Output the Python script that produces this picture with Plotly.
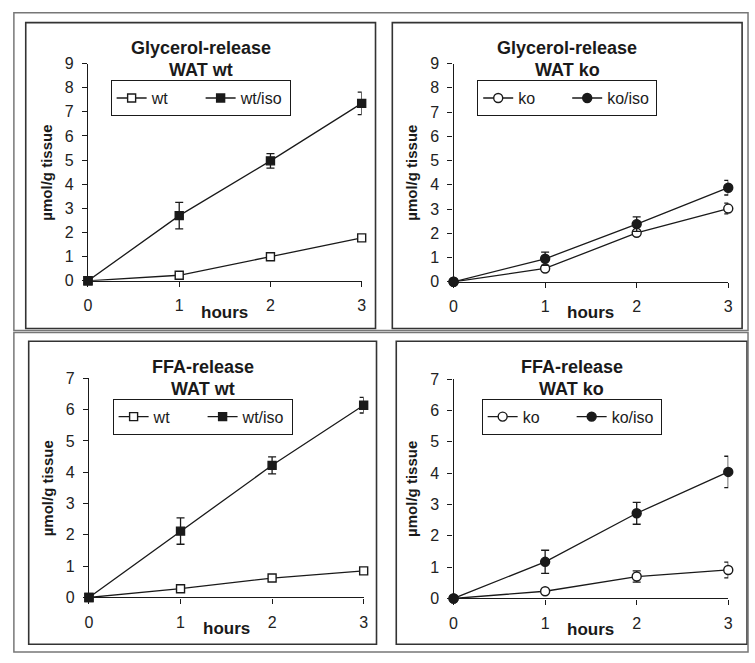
import plotly.graph_objects as go

W, H = 755, 663

hours = [0, 1, 2, 3]

# Panel 1: Glycerol-release WAT wt
gly_wt = [0, 0.23, 1.0, 1.78]
gly_wt_err = [0, 0.05, 0.06, 0.06]
gly_wtiso = [0, 2.7, 4.97, 7.35]
gly_wtiso_err = [0, 0.55, 0.3, 0.47]

# Panel 2: Glycerol-release WAT ko
gly_ko = [0, 0.55, 2.02, 3.02]
gly_ko_err = [0, 0.1, 0.1, 0.22]
gly_koiso = [0, 0.95, 2.38, 3.88]
gly_koiso_err = [0, 0.27, 0.3, 0.3]

# Panel 3: FFA-release WAT wt
ffa_wt = [0, 0.28, 0.62, 0.85]
ffa_wt_err = [0, 0.04, 0.08, 0.05]
ffa_wtiso = [0, 2.12, 4.22, 6.14]
ffa_wtiso_err = [0, 0.42, 0.27, 0.25]

# Panel 4: FFA-release WAT ko
ffa_ko = [0, 0.23, 0.7, 0.91]
ffa_ko_err = [0, 0.05, 0.18, 0.25]
ffa_koiso = [0, 1.17, 2.72, 4.04]
ffa_koiso_err = [0, 0.37, 0.35, 0.5]

titles = [("Glycerol-release", "WAT wt"), ("Glycerol-release", "WAT ko"),
          ("FFA-release", "WAT wt"), ("FFA-release", "WAT ko")]
y_max = [9, 9, 7, 7]

def px(x):
    return x / W

def py(y):
    return 1 - y / H

# plot-area pixel boxes (x0, x1, ytop, ybottom)
areas = [(85, 362, 57, 280), (455, 733, 57, 281), (86, 364, 380, 605), (455, 733, 381, 606)]
panels = [(22, 376, 15, 329), (393, 747, 15, 329), (25, 377, 342, 653), (397, 752, 342, 653)]

fig = go.Figure()

series = [
    [("wt", gly_wt, gly_wt_err, "square-open", "square"), ("wt/iso", gly_wtiso, gly_wtiso_err, "square", "square")],
    [("ko", gly_ko, gly_ko_err, "circle-open", "circle"), ("ko/iso", gly_koiso, gly_koiso_err, "circle", "circle")],
    [("wt", ffa_wt, ffa_wt_err, "square-open", "square"), ("wt/iso", ffa_wtiso, ffa_wtiso_err, "square", "square")],
    [("ko", ffa_ko, ffa_ko_err, "circle-open", "circle"), ("ko/iso", ffa_koiso, ffa_koiso_err, "circle", "circle")],
]

FONT = "Liberation Sans, Arial, sans-serif"
INK = "#1a1a1a"

for i, ser in enumerate(series):
    xa = "x" if i == 0 else f"x{i+1}"
    ya = "y" if i == 0 else f"y{i+1}"
    lg = "legend" if i == 0 else f"legend{i+1}"
    for name, vals, errs, sym, base in ser:
        filled = not sym.endswith("open")
        fig.add_trace(go.Scatter(
            x=hours, y=vals, name=name, mode="lines+markers",
            xaxis=xa, yaxis=ya, legend=lg, cliponaxis=False,
            line=dict(color=INK, width=1.3),
            marker=dict(symbol=base, size=8 if base == "square" else 9,
                        color=INK if filled else "white",
                        line=dict(color=INK, width=1.4)),
            error_y=dict(type="data", array=errs, visible=True,
                         color=INK, thickness=1.3, width=4),
        ))

layout = dict(
    width=W, height=H, margin=dict(l=0, r=0, t=0, b=0),
    paper_bgcolor="white", plot_bgcolor="white", showlegend=True,
    font=dict(family=FONT, color=INK, size=14),
)

shapes = []
annotations = []

def ann(text, x, y, size, angle=0):
    return dict(text=text, x=px(x), y=py(y), xref="paper", yref="paper",
                xanchor="center", yanchor="middle", showarrow=False, textangle=angle,
                font=dict(size=size, family=FONT, color=INK))

for i, (x0, x1, yt, yb) in enumerate(areas):
    sx = "" if i == 0 else str(i + 1)
    axis_common = dict(showline=True, linecolor=INK, linewidth=1.3, ticks="outside",
                       ticklen=5, tickcolor=INK, tickwidth=1.3, showgrid=False,
                       zeroline=False, dtick=1, fixedrange=True,
                       tickfont=dict(family=FONT, size=16, color="#222"))
    layout["xaxis" + sx] = dict(domain=[px(x0), px(x1)], range=[0, 3],
                                anchor="y" + sx, ticklabelstandoff=5, **axis_common)
    layout["yaxis" + sx] = dict(domain=[py(yb), py(yt)], range=[0, y_max[i]],
                                anchor="x" + sx, ticklabelstandoff=5, **axis_common)
    p = panels[i]
    cx = (p[0] + p[1]) / 2
    shapes.append(dict(type="rect", xref="paper", yref="paper",
                       x0=px(p[0]), x1=px(p[1]), y0=py(p[3]), y1=py(p[2]),
                       line=dict(color="#333", width=1.6)))
    t1, t2 = titles[i]
    annotations.append(ann("<b>" + t1 + "</b>", cx, p[2] + 26, 18))
    annotations.append(ann("<b>" + t2 + "</b>", cx, p[2] + 49, 18))
    annotations.append(ann("<b>hours</b>", (x0 + x1) / 2, yb + 32, 17))
    annotations.append(ann("<b>µmol/g tissue</b>", x0 - 42, (yt + yb) / 2, 15, -90))
    lgname = "legend" if i == 0 else f"legend{i+1}"
    layout[lgname] = dict(orientation="h", x=px(cx), xanchor="center",
                          y=py(p[2] + 59), yanchor="top",
                          bordercolor=INK, borderwidth=1, bgcolor="white",
                          font=dict(size=16, family=FONT, color=INK),
                          entrywidth=44, tracegroupgap=0)

# outer frames
shapes.append(dict(type="rect", xref="paper", yref="paper",
                   x0=px(10), x1=px(753), y0=py(331), y1=py(5),
                   line=dict(color="#777", width=1.5)))
shapes.append(dict(type="rect", xref="paper", yref="paper",
                   x0=px(10), x1=px(753), y0=py(661), y1=py(333),
                   line=dict(color="#777", width=1.5)))

layout["shapes"] = shapes
layout["annotations"] = annotations
fig.update_layout(**layout)
fig.write_html("out.html", config={"displayModeBar": False},
               post_script="document.body.style.margin='0';document.body.style.overflow='hidden';")
